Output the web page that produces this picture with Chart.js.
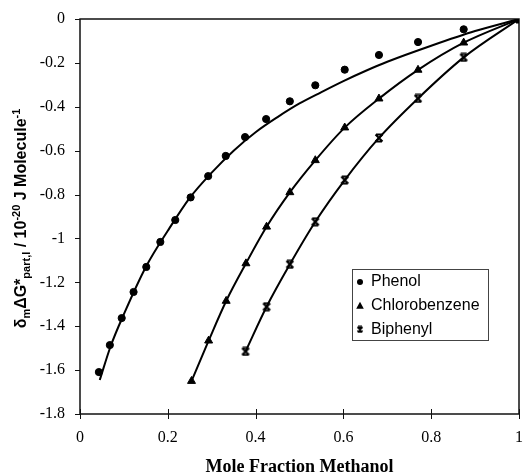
<!DOCTYPE html>
<html>
<head>
<meta charset="utf-8">
<script src="https://cdn.jsdelivr.net/npm/chart.js@4.4.1/dist/chart.umd.min.js"></script>
<style>
  html, body { margin: 0; padding: 0; background: #fff; }
  #wrap { width: 525px; height: 476px; }
</style>
</head>
<body>
<div id="wrap"><canvas id="chart" width="525" height="476"></canvas></div>
<script>
// Data
const phenolX = [0.043, 0.068, 0.095, 0.122, 0.151, 0.183, 0.217, 0.252, 0.292, 0.332, 0.376, 0.424, 0.478, 0.536, 0.603, 0.681, 0.770, 0.874, 1.0];
const phenolY = [-1.609, -1.486, -1.363, -1.244, -1.130, -1.016, -0.916, -0.813, -0.716, -0.624, -0.538, -0.456, -0.375, -0.302, -0.231, -0.164, -0.105, -0.047, 0];

// phenol fitted curve (drawn, sits below the middle points)
const phenolFitX = [0.045, 0.07, 0.1, 0.15, 0.2, 0.25, 0.3, 0.35, 0.4, 0.45, 0.5, 0.55, 0.6, 0.65, 0.7, 0.8, 0.9, 1.0];
const phenolFitY = [-1.645, -1.49, -1.345, -1.13, -0.965, -0.815, -0.70, -0.60, -0.516, -0.447, -0.385, -0.333, -0.283, -0.237, -0.195, -0.122, -0.055, 0];

const chloroX = [0.254, 0.293, 0.333, 0.378, 0.425, 0.478, 0.536, 0.603, 0.681, 0.770, 0.874, 1.0];
const chloroY = [-1.650, -1.466, -1.285, -1.114, -0.947, -0.790, -0.644, -0.495, -0.363, -0.232, -0.108, 0];

const biphenylX = [0.377, 0.425, 0.478, 0.536, 0.603, 0.681, 0.770, 0.874, 1.0];
const biphenylY = [-1.515, -1.311, -1.118, -0.924, -0.734, -0.542, -0.362, -0.175, 0];

const seriesNames = ['Phenol', 'Chlorobenzene', 'Biphenyl'];

const xTitle = 'Mole Fraction Methanol';
// y title pieces: [text, 'n' normal | 'sub' | 'sup']
const yTitle = [['δ', 'n'], ['m', 'sub'], ['ΔG*', 'n'], ['part,l', 'sub'], [' / 10', 'n'], ['-20', 'sup'], [' J Molecule', 'n'], ['-1', 'sup']];

const toPts = (xs, ys) => xs.map((x, i) => ({ x, y: ys[i] }));

// ─── Biphenyl marker: X with bars top and bottom ─────────────────────────────
function makeCross(size) {
  const c = document.createElement('canvas');
  c.width = size; c.height = size;
  const g = c.getContext('2d');
  g.strokeStyle = '#000';
  g.lineWidth = 2;
  const a = 1.5, b = size - 1.5;
  g.beginPath();
  g.moveTo(a, a); g.lineTo(b, b);
  g.moveTo(b, a); g.lineTo(a, b);
  g.moveTo(a + 0.5, a); g.lineTo(b - 0.5, a);
  g.moveTo(a + 0.5, b); g.lineTo(b - 0.5, b);
  g.stroke();
  return c;
}
const crossBig = makeCross(10);
const crossSmall = makeCross(8);

// ─── Frame + ticks ───────────────────────────────────────────────────────────
const framePlugin = {
  id: 'frame',
  beforeDatasetsDraw(chart) {
    const { ctx, chartArea: a, scales } = chart;
    ctx.save();
    ctx.strokeStyle = '#111';
    ctx.lineWidth = 1.5;
    ctx.strokeRect(a.left, a.top, a.right - a.left, a.bottom - a.top);
    ctx.lineWidth = 1;
    ctx.beginPath();
    scales.x.ticks.forEach(t => {
      const px = Math.round(scales.x.getPixelForValue(t.value)) + 0.5;
      ctx.moveTo(px, a.bottom - 5); ctx.lineTo(px, a.bottom + 5);
    });
    scales.y.ticks.forEach(t => {
      const py = Math.round(scales.y.getPixelForValue(t.value)) + 0.5;
      ctx.moveTo(a.left - 5, py); ctx.lineTo(a.left, py);
    });
    ctx.stroke();
    ctx.restore();
  }
};

// ─── Rotated y title with sub/superscripts ───────────────────────────────────
const yTitlePlugin = {
  id: 'ytitle',
  afterDraw(chart) {
    const { ctx, chartArea: a } = chart;
    const big = 'bold 16px "Liberation Sans", Arial, sans-serif';
    const small = 'bold 11px "Liberation Sans", Arial, sans-serif';
    ctx.save();
    let total = 0;
    yTitle.forEach(([t, k]) => { ctx.font = k === 'n' ? big : small; total += ctx.measureText(t).width; });
    ctx.translate(26, (a.top + a.bottom) / 2 + 2);
    ctx.rotate(-Math.PI / 2);
    ctx.fillStyle = '#000';
    ctx.textBaseline = 'alphabetic';
    let x = -total / 2;
    yTitle.forEach(([t, k]) => {
      ctx.font = k === 'n' ? big : small;
      const dy = k === 'sub' ? 4 : k === 'sup' ? -6 : 0;
      ctx.fillText(t, x, dy);
      x += ctx.measureText(t).width;
    });
    ctx.restore();
  }
};

// ─── Legend box inside plot ──────────────────────────────────────────────────
function drawMarker(ctx, style, x, y) {
  ctx.fillStyle = '#000';
  if (style === 'circle') {
    ctx.beginPath(); ctx.arc(x, y, 3, 0, Math.PI * 2); ctx.fill();
  } else if (style === 'triangle') {
    ctx.beginPath(); ctx.moveTo(x, y - 4); ctx.lineTo(x + 3.8, y + 3); ctx.lineTo(x - 3.8, y + 3); ctx.closePath(); ctx.fill();
  } else {
    ctx.drawImage(crossSmall, x - 4, y - 4);
  }
}
const legendPlugin = {
  id: 'boxLegend',
  afterDraw(chart) {
    const { ctx } = chart;
    const box = { x: 352, y: 269, w: 136, h: 71 };
    ctx.save();
    ctx.fillStyle = '#fff';
    ctx.fillRect(box.x, box.y, box.w, box.h);
    ctx.strokeStyle = '#444';
    ctx.lineWidth = 1;
    ctx.strokeRect(box.x + 0.5, box.y + 0.5, box.w, box.h);
    ctx.font = '16px "Liberation Sans", Arial, sans-serif';
    ctx.textBaseline = 'middle';
    ctx.fillStyle = '#000';
    const styles = ['circle', 'triangle', 'cross'];
    chart.data.datasets.slice(0, 3).forEach((ds, i) => {
      const y = 282 + i * 23.7;
      drawMarker(ctx, styles[i], 360, y);
      ctx.fillStyle = '#000';
      ctx.fillText(ds.label, 371, y);
    });
    ctx.restore();
  }
};

const tickFont = { family: '"Liberation Serif", "Times New Roman", serif', size: 16 };

// keep the plot box where the reference has it (no label-overflow padding)
const noPad = s => { s.paddingLeft = 0; s.paddingRight = 0; s.paddingTop = 0; s.paddingBottom = 0; };

new Chart(document.getElementById('chart'), {
  type: 'scatter',
  data: {
    datasets: [
      { label: seriesNames[0], data: toPts(phenolX, phenolY), pointStyle: 'circle', pointRadius: 3.6,
        backgroundColor: '#000', borderColor: '#000', borderWidth: 1, showLine: false },
      { label: seriesNames[1], data: toPts(chloroX, chloroY), pointStyle: 'triangle', pointRadius: 4.6,
        backgroundColor: '#000', borderColor: '#000', borderWidth: 2, pointBorderWidth: 1,
        showLine: true, cubicInterpolationMode: 'monotone' },
      { label: seriesNames[2], data: toPts(biphenylX, biphenylY), pointStyle: crossBig,
        backgroundColor: '#000', borderColor: '#000', borderWidth: 2,
        showLine: true, cubicInterpolationMode: 'monotone' },
      { label: 'Phenol fit', data: toPts(phenolFitX, phenolFitY), pointRadius: 0,
        borderColor: '#000', borderWidth: 2, showLine: true, cubicInterpolationMode: 'monotone' },
    ],
  },
  options: {
    responsive: false,
    animation: false,
    layout: { padding: { top: 19, right: 2, left: 0, bottom: 0 } },
    plugins: { legend: { display: false }, tooltip: { enabled: false } },
    scales: {
      x: {
        type: 'linear', min: 0, max: 1,
        grid: { display: false, drawTicks: false },
        border: { display: false },
        ticks: { stepSize: 0.2, padding: 14, color: '#000', font: tickFont, maxRotation: 0,
          callback: v => String(Number(v.toFixed(1))) },
        title: { display: true, text: xTitle, color: '#000', padding: { top: 0, bottom: 0 },
          font: { family: '"Liberation Serif", "Times New Roman", serif', size: 18, weight: 'bold', lineHeight: 1 } },
        afterFit: s => { s.height = 62; noPad(s); },
      },
      y: {
        type: 'linear', min: -1.8, max: 0,
        grid: { display: false, drawTicks: false },
        border: { display: false },
        ticks: { stepSize: 0.2, padding: 15, color: '#000', font: tickFont,
          callback: v => String(Number(v.toFixed(1))) },
        afterFit: s => { s.width = 80; noPad(s); },
      },
    },
  },
  plugins: [framePlugin, yTitlePlugin, legendPlugin],
});
</script>
</body>
</html>
